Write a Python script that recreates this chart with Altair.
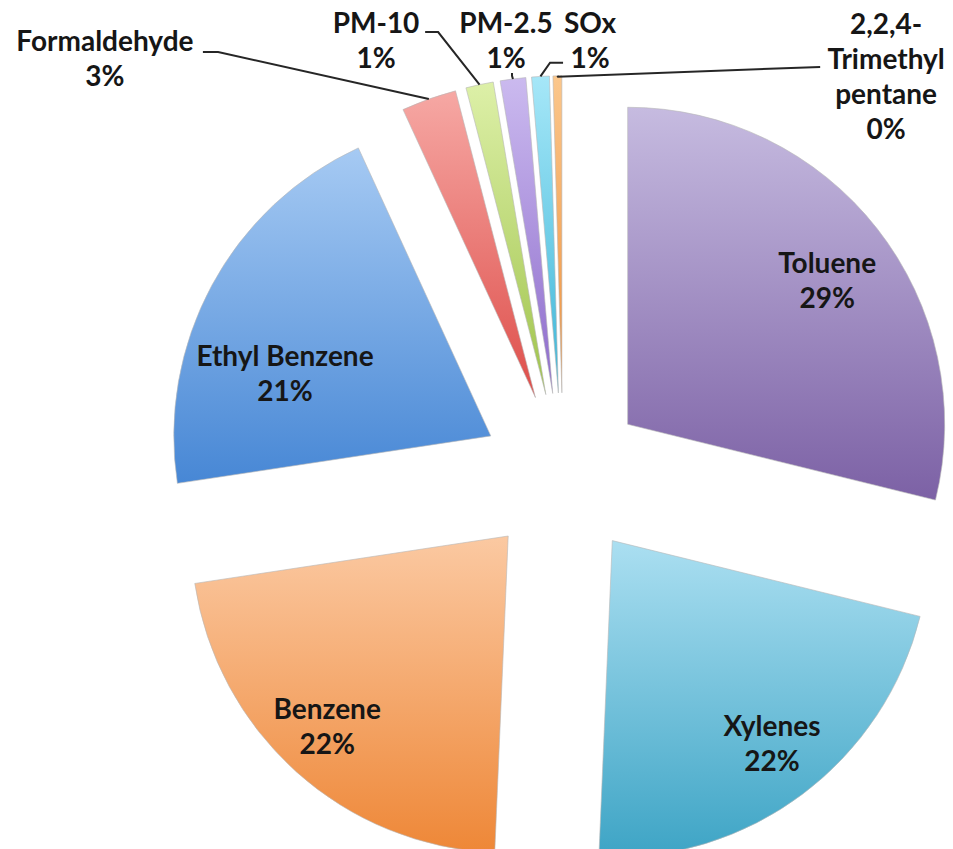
import math
import altair as alt
import pandas as pd

# Share of emissions by pollutant, listed clockwise from 12 o'clock
names = ["Toluene", "Xylenes", "Benzene", "Ethyl Benzene", "Formaldehyde",
         "PM-10", "PM-2.5", "SOx", "2,2,4-Trimethyl pentane"]
display_names = ["Toluene", "Xylenes", "Benzene", "Ethyl Benzene", "Formaldehyde",
                 "PM-10", "PM-2.5", "SOx", "2,2,4-\nTrimethyl\npentane"]
values = [28.8, 21.8, 21.9, 20.5, 2.8, 1.4, 1.3, 0.9, 0.45]

# Slice gradient colours (top -> bottom)
top_colors = ["#c6bbe0", "#abdff1", "#fbc9a2", "#a6caf3", "#f6a8a4",
              "#ddf0a8", "#cbbaef", "#a6e7f8", "#fbc78c"]
bottom_colors = ["#7c61a5", "#3da4c5", "#ee8737", "#4787d5", "#de4e4a",
                 "#9fc34b", "#8d6bcb", "#3bb5d7", "#ef8f39"]

# Label anchors (first text line), in pie radii relative to the pie centre
label_u = [0.833, 0.659, -0.744, -0.877, -1.445, -0.590, -0.180, 0.085, 1.019]
label_v = [0.662, -0.798, -0.744, 0.369, 1.363, 1.420, 1.420, 1.420, 1.416]

# Leader lines for the outside labels: elbow and end point (pie radii)
leader_names = ["Formaldehyde", "PM-10", "PM-2.5", "SOx", "2,2,4-Trimethyl pentane"]
leader_elbow = [(-1.088, 1.334), (-0.394, 1.397), (-0.161, 1.259), (-0.041, 1.300), (-0.016, 1.256)]
leader_end = [(-1.136, 1.334), (-0.435, 1.397), (-0.161, 1.268), (0.0, 1.300), (0.811, 1.287)]

EXPLODE = 0.259      # radial offset of each slice, in pie radii
RADIUS_PX = 317      # pie radius in pixels
W, H = 953, 849

xs = alt.Scale(domain=[-1.776, 1.230], nice=False, zero=False)
ys = alt.Scale(domain=[-1.180, 1.498], nice=False, zero=False)
ts = alt.Scale(domain=[0, 1], range=[0, 2 * math.pi])

df = pd.DataFrame({
    "order": list(range(len(names))),
    "name": names,
    "disp": display_names,
    "value": values,
    "lu": label_u,
    "lv": label_v,
})

base = (
    alt.Chart(df)
    .transform_joinaggregate(total="sum(value)")
    .transform_window(cum="sum(value)", sort=[alt.SortField("order")], frame=[None, 0])
    .transform_calculate(
        f1="datum.cum / datum.total",
        f0="(datum.cum - datum.value) / datum.total",
    )
    .transform_calculate(
        ex=f"{EXPLODE} * sin(PI * (datum.f0 + datum.f1))",
        ey=f"{EXPLODE} * cos(PI * (datum.f0 + datum.f1))",
    )
)

slices = []
for n, c0, c1 in zip(names, top_colors, bottom_colors):
    grad = alt.LinearGradient(
        gradient="linear",
        stops=[alt.GradientStop(color=c0, offset=0), alt.GradientStop(color=c1, offset=1)],
        x1=0, x2=0, y1=0, y2=1,
    )
    slices.append(
        base.transform_filter(alt.datum.name == n)
        .mark_arc(radius=RADIUS_PX, fill=grad, stroke="#b8b8b8", strokeWidth=1, strokeOpacity=0.6)
        .encode(
            theta=alt.Theta("f0:Q", scale=ts),
            theta2="f1:Q",
            x=alt.X("ex:Q", scale=xs, axis=None),
            y=alt.Y("ey:Q", scale=ys, axis=None),
        )
    )

# Leader lines start at the outer-arc midpoint of each exploded slice
total = sum(values)
cum = 0.0
starts = {}
for n, v in zip(names, values):
    mid = (cum + v / 2) / total
    starts[n] = ((1 + EXPLODE) * math.sin(2 * math.pi * mid),
                 (1 + EXPLODE) * math.cos(2 * math.pi * mid))
    cum += v

rows = []
for n, e, t in zip(leader_names, leader_elbow, leader_end):
    for seq, (u, v) in enumerate([starts[n], e, t]):
        rows.append({"name": n, "seq": seq, "u": u, "v": v})
leader_df = pd.DataFrame(rows)

leaders = alt.Chart(leader_df).mark_line(color="#262626", strokeWidth=2).encode(
    x=alt.X("u:Q", scale=xs, axis=None),
    y=alt.Y("v:Q", scale=ys, axis=None),
    detail="name:N",
    order="seq:Q",
)

labels = (
    base.transform_calculate(txt="datum.disp + '\\n' + format(datum.value / datum.total, '.0%')")
    .mark_text(font="Lato", fontWeight="bold", fontSize=28, lineBreak="\n", lineHeight=35,
               align="center", baseline="middle", color="#161616")
    .encode(
        x=alt.X("lu:Q", scale=xs, axis=None),
        y=alt.Y("lv:Q", scale=ys, axis=None),
        text="txt:N",
    )
)

chart = (
    alt.layer(*slices, leaders, labels)
    .properties(width=W, height=H, padding=0, autosize="none")
    .configure_view(strokeWidth=0)
)

chart.save("out.html", embed_options={"renderer": "svg", "actions": False})
